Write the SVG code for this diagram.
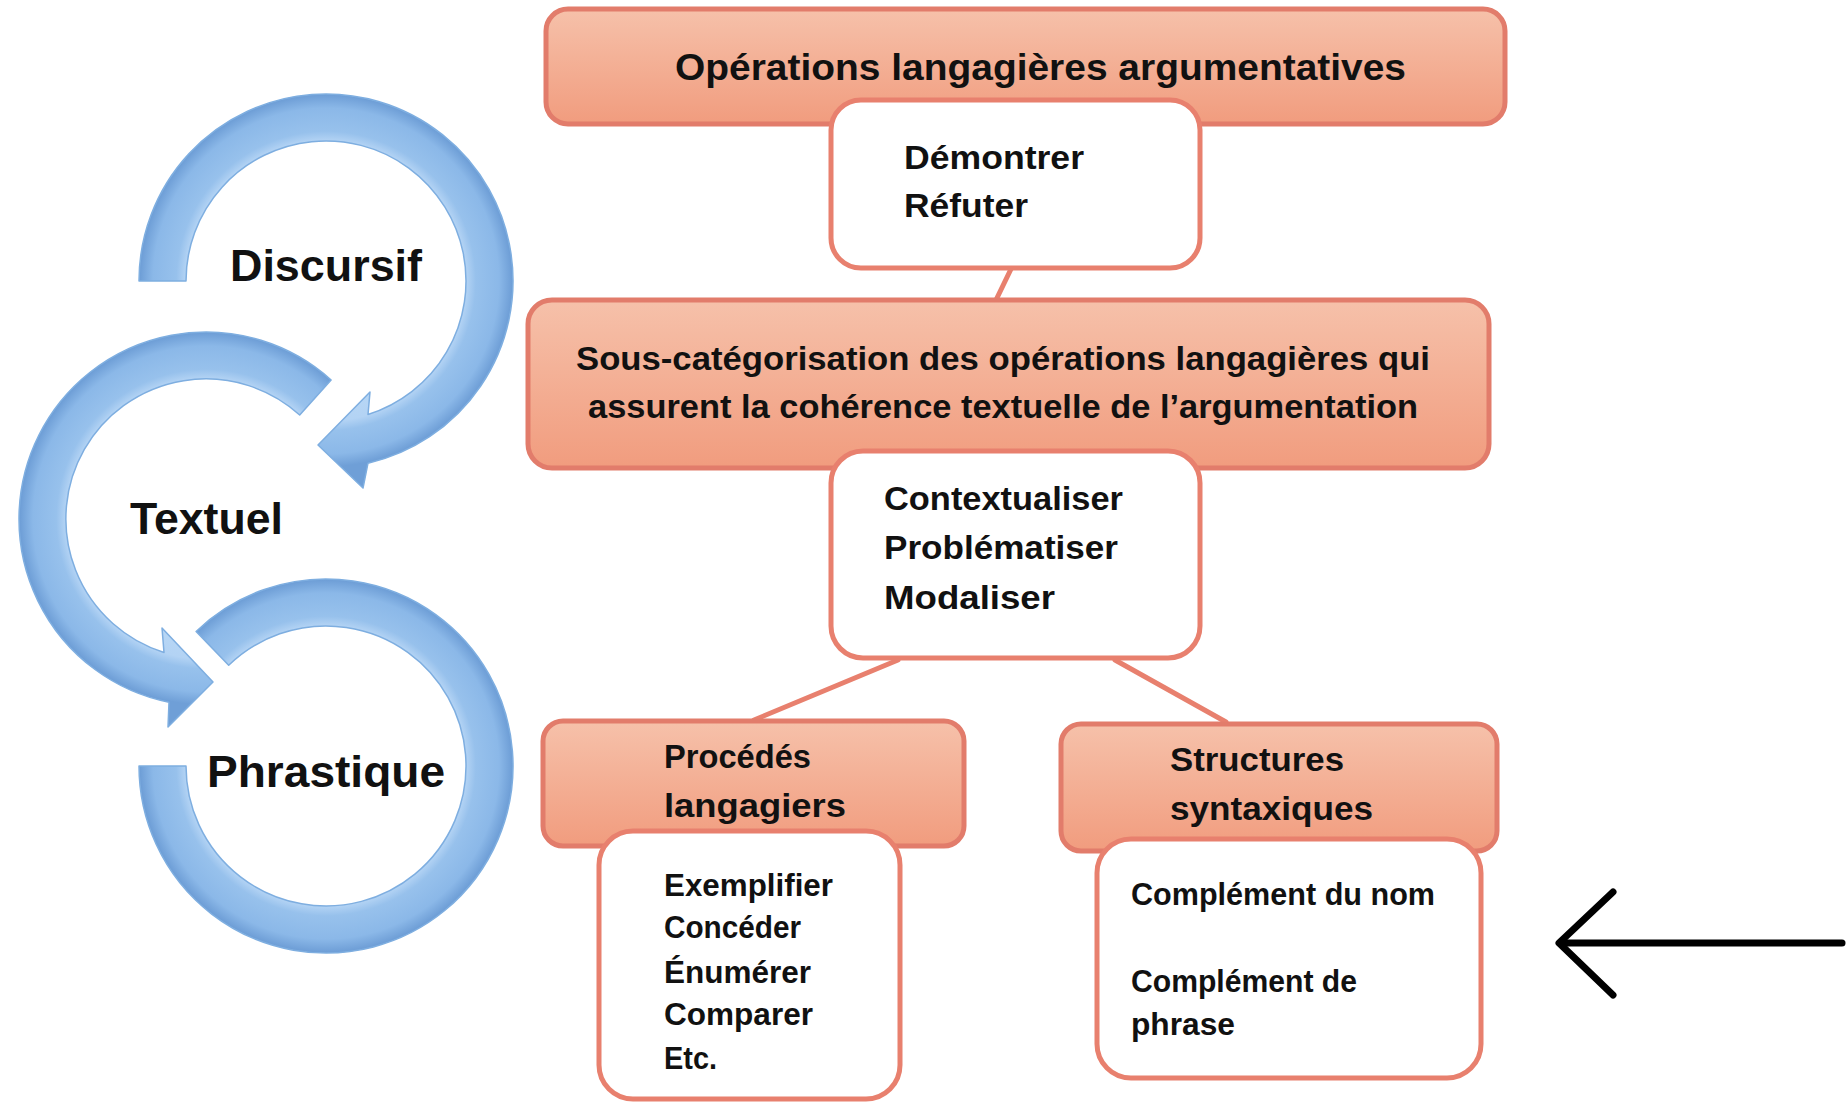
<svg xmlns="http://www.w3.org/2000/svg" width="1848" height="1103" viewBox="0 0 1848 1103">
<defs>
  <linearGradient id="og" x1="0" y1="0" x2="0" y2="1">
    <stop offset="0" stop-color="#F6C1AA"/>
    <stop offset="1" stop-color="#F19C7E"/>
  </linearGradient>
  <radialGradient id="bg1" gradientUnits="userSpaceOnUse" cx="326" cy="281" r="211">
    <stop offset="0.55" stop-color="#B8D7F5"/>
    <stop offset="0.665" stop-color="#B3D3F4"/>
    <stop offset="0.71" stop-color="#97C1EC"/>
    <stop offset="0.82" stop-color="#8BB8E8"/>
    <stop offset="0.88" stop-color="#6F9FD7"/>
    <stop offset="1" stop-color="#6F9FD7"/>
  </radialGradient>
  <radialGradient id="bg2" gradientUnits="userSpaceOnUse" cx="206" cy="519" r="211">
    <stop offset="0.55" stop-color="#B8D7F5"/>
    <stop offset="0.665" stop-color="#B3D3F4"/>
    <stop offset="0.71" stop-color="#97C1EC"/>
    <stop offset="0.82" stop-color="#8BB8E8"/>
    <stop offset="0.88" stop-color="#6F9FD7"/>
    <stop offset="1" stop-color="#6F9FD7"/>
  </radialGradient>
  <radialGradient id="bg3" gradientUnits="userSpaceOnUse" cx="326" cy="766" r="211">
    <stop offset="0.55" stop-color="#B8D7F5"/>
    <stop offset="0.665" stop-color="#B3D3F4"/>
    <stop offset="0.71" stop-color="#97C1EC"/>
    <stop offset="0.82" stop-color="#8BB8E8"/>
    <stop offset="0.88" stop-color="#6F9FD7"/>
    <stop offset="1" stop-color="#6F9FD7"/>
  </radialGradient>
</defs>
<style>
  .obox { fill: url(#og); stroke: #E27C6B; stroke-width: 5; }
  .wbox { fill: #FFFFFF; stroke: #E8806E; stroke-width: 5; }
  .conn { stroke: #E8806E; stroke-width: 5; fill: none; stroke-linecap: round; }
  .arc { stroke: #7EAEE0; stroke-width: 1.5; stroke-linejoin: round; }
  text { font-family: "Liberation Sans", Arial, sans-serif; font-weight: bold; fill: #111111; }
  .t36 { font-size: 36px; }
  .t34 { font-size: 34px; }
  .t32 { font-size: 32px; }
  .big { font-size: 44px; }
</style>
<rect width="1848" height="1103" fill="#FFFFFF"/>

<g id="cycle">
  <g id="arc-discursif">
    <path class="arc" fill="url(#bg1)" d="M 139 281 A 187 187 0 1 1 368 463.2 L 363 488 L 318 445 L 370 392 L 368 414.5 A 140 140 0 1 0 186 281 Z"/>
    <text class="big" x="230" y="281" textLength="192" lengthAdjust="spacingAndGlyphs">Discursif</text>
  </g>
  <g id="arc-textuel">
    <path class="arc" fill="url(#bg2)" d="M 331.1 380 A 187 187 0 1 0 169 702.3 L 168 727 L 213 682 L 162 628 L 164 652.5 A 140 140 0 1 1 299.7 415 Z"/>
    <text class="big" x="130" y="534" textLength="153" lengthAdjust="spacingAndGlyphs">Textuel</text>
  </g>
  <g id="arc-phrastique">
    <path class="arc" fill="url(#bg3)" d="M 196.1 631.5 A 187 187 0 1 1 139 766 L 186 766 A 140 140 0 1 0 228.7 665.3 Z"/>
    <text class="big" x="207" y="787" textLength="238" lengthAdjust="spacingAndGlyphs">Phrastique</text>
  </g>
</g>

<g id="connectors">
  <line class="conn" x1="1011" y1="269" x2="996" y2="300"/>
  <line class="conn" x1="898" y1="660" x2="754" y2="720"/>
  <line class="conn" x1="1115" y1="660" x2="1226" y2="722"/>
</g>

<g id="n-operations">
  <rect class="obox" x="546" y="9" width="959" height="115" rx="22"/>
  <text class="t36" x="675" y="80" textLength="731" lengthAdjust="spacingAndGlyphs">Opérations langagières argumentatives</text>
</g>
<g id="n-demontrer">
  <rect class="wbox" x="831" y="100" width="369" height="168" rx="30"/>
  <text class="t34" x="904" y="169" textLength="180" lengthAdjust="spacingAndGlyphs">Démontrer</text>
  <text class="t34" x="904" y="217" textLength="124" lengthAdjust="spacingAndGlyphs">Réfuter</text>
</g>
<g id="n-souscat">
  <rect class="obox" x="528" y="300" width="961" height="168" rx="24"/>
  <text class="t34" x="576" y="370" textLength="854" lengthAdjust="spacingAndGlyphs">Sous-catégorisation des opérations langagières qui</text>
  <text class="t34" x="588" y="418" textLength="830" lengthAdjust="spacingAndGlyphs">assurent la cohérence textuelle de l’argumentation</text>
</g>
<g id="n-contextualiser">
  <rect class="wbox" x="831" y="451" width="369" height="207" rx="32"/>
  <text class="t34" x="884" y="510" textLength="239" lengthAdjust="spacingAndGlyphs">Contextualiser</text>
  <text class="t34" x="884" y="559" textLength="234" lengthAdjust="spacingAndGlyphs">Problématiser</text>
  <text class="t34" x="884" y="609" textLength="171" lengthAdjust="spacingAndGlyphs">Modaliser</text>
</g>
<g id="n-procedes">
  <rect class="obox" x="543" y="721" width="421" height="125" rx="20"/>
  <text class="t34" x="664" y="768" textLength="147" lengthAdjust="spacingAndGlyphs">Procédés</text>
  <text class="t34" x="664" y="817" textLength="182" lengthAdjust="spacingAndGlyphs">langagiers</text>
</g>
<g id="n-exemplifier">
  <rect class="wbox" x="599" y="831" width="301" height="268" rx="34"/>
  <text class="t32" x="664" y="896" textLength="169" lengthAdjust="spacingAndGlyphs">Exemplifier</text>
  <text class="t32" x="664" y="938" textLength="137" lengthAdjust="spacingAndGlyphs">Concéder</text>
  <text class="t32" x="664" y="983" textLength="147" lengthAdjust="spacingAndGlyphs">Énumérer</text>
  <text class="t32" x="664" y="1025" textLength="149" lengthAdjust="spacingAndGlyphs">Comparer</text>
  <text class="t32" x="664" y="1069" textLength="53" lengthAdjust="spacingAndGlyphs">Etc.</text>
</g>
<g id="n-structures">
  <rect class="obox" x="1061" y="724" width="436" height="127" rx="20"/>
  <text class="t34" x="1170" y="771" textLength="174" lengthAdjust="spacingAndGlyphs">Structures</text>
  <text class="t34" x="1170" y="820" textLength="203" lengthAdjust="spacingAndGlyphs">syntaxiques</text>
</g>
<g id="n-complement">
  <rect class="wbox" x="1097" y="839" width="384" height="239" rx="34"/>
  <text class="t32" x="1131" y="905" textLength="304" lengthAdjust="spacingAndGlyphs">Complément du nom</text>
  <text class="t32" x="1131" y="992" textLength="226" lengthAdjust="spacingAndGlyphs">Complément de</text>
  <text class="t32" x="1131" y="1035" textLength="104" lengthAdjust="spacingAndGlyphs">phrase</text>
</g>

<g id="arrow-right" fill="none" stroke="#000000" stroke-width="7" stroke-linecap="round" stroke-linejoin="round">
  <line x1="1842" y1="943" x2="1560" y2="943"/>
  <polyline points="1613,892 1559,943 1613,995"/>
</g>
</svg>
